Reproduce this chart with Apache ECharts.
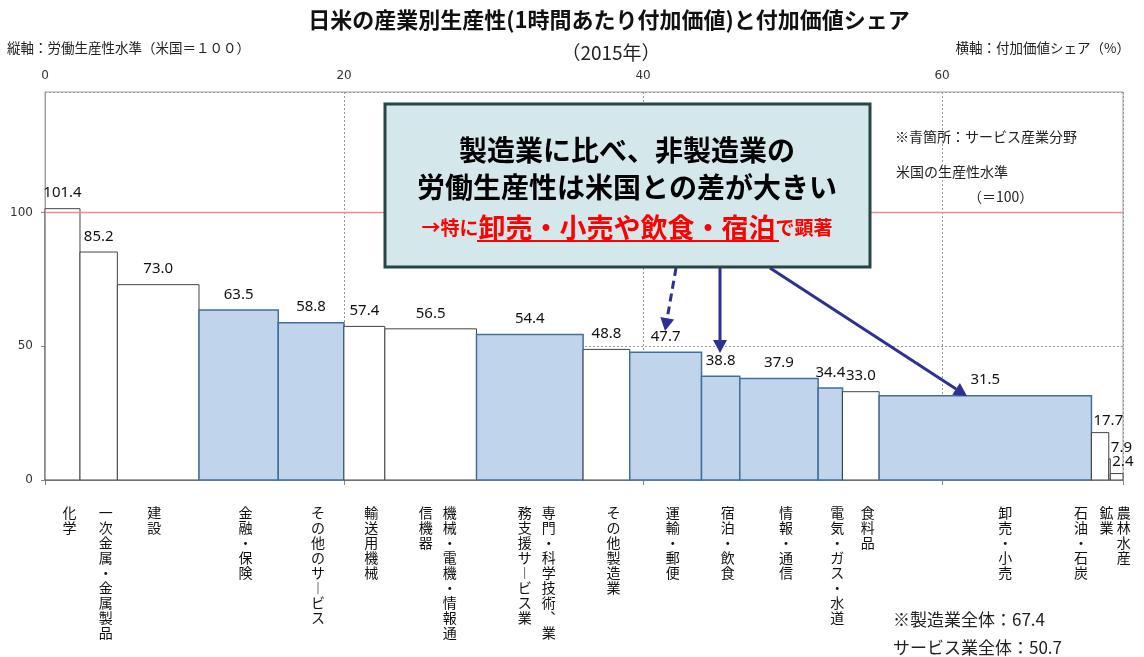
<!DOCTYPE html>
<html>
<head>
<meta charset="utf-8">
<script src="https://cdn.jsdelivr.net/npm/echarts@6/dist/echarts.min.js"></script>
<style>
  html, body { margin: 0; padding: 0; background: #fff; }
  #chart { width: 1144px; height: 657px; }
</style>
</head>
<body>
<div id="chart"></div>
<script>
const categories = ['化学', '一次金属・金属製品', '建設', '金融・保険', 'その他のサービス', '輸送用機械',
    '機械・電機・情報通信機器', '専門・科学技術、業務支援サービス業', 'その他製造業', '運輸・郵便',
    '宿泊・飲食', '情報・通信', '電気・ガス・水道', '食料品', '卸売・小売', '石油・石炭', '鉱業', '農林水産']
// 横軸: 付加価値シェア (%)
const shares = [2.34, 2.5, 5.46, 5.3, 4.39, 2.74, 6.13, 7.13, 3.12, 4.8, 2.56, 5.24, 1.63, 2.45, 14.2, 1.16, 0.1, 0.85]
// 縦軸: 労働生産性水準 (米国=100)
const productivity = [101.4, 85.2, 73.0, 63.5, 58.8, 57.4, 56.5, 54.4, 48.8, 47.7, 38.8, 37.9, 34.4, 33.0, 31.5, 17.7, 7.9, 2.4]
const isService = [0, 0, 0, 1, 1, 0, 0, 1, 0, 1, 1, 1, 1, 0, 1, 0, 0, 0]
const usLevel = 100

const chartDom = document.getElementById('chart')
const chart = echarts.init(chartDom)

// cumulative start / end of each bar on the share axis
let barData = []
let acc = 0
for (let i = 0; i < shares.length; i++) {
    barData.push([acc, acc + shares[i], productivity[i], isService[i], i])
    acc += shares[i]
}
const xMax = Math.round(acc * 100) / 100

const cjk = '"Noto Sans CJK JP", sans-serif'

// vertical (tategaki) label: columns of 9 chars, right to left
function verticalColumns(name) {
    let s = name.replace(/ー/g, '︱').replace(/、/g, '︑')
    let cols = []
    for (let i = 0; i < s.length; i += 9) {
        cols.push(s.slice(i, i + 9).split('').join('\n'))
    }
    return cols
}

function labelNudge(idx) {
    if (idx === 2) return -11
    if (idx === 14) return 13
    if (idx === 15) return -26
    if (idx === 16) return -10
    return 0
}

function renderBar(params, api) {
    const x0 = api.value(0)
    const x1 = api.value(1)
    const v = api.value(2)
    const svc = api.value(3)
    const idx = api.value(4)
    const p0 = api.coord([x0, 0])
    const p1 = api.coord([x1, v])
    const w = p1[0] - p0[0]
    const cx = (p0[0] + p1[0]) / 2

    let children = [{
        type: 'rect',
        shape: { x: p0[0], y: p1[1], width: w, height: p0[1] - p1[1] },
        style: {
            fill: svc ? '#c0d5eb' : '#fff',
            stroke: svc ? '#41709c' : '#444',
            lineWidth: svc ? 1.5 : 1
        }
    }]

    const thin = w < 20
    children.push({
        type: 'text',
        style: {
            text: v.toFixed(1),
            x: thin ? p0[0] + 2 : cx,
            y: p1[1] - (thin ? 4 : 8),
            align: thin ? 'left' : 'center',
            verticalAlign: 'bottom',
            fill: '#111',
            fontSize: 15,
            fontFamily: '"Noto Sans", sans-serif'
        }
    })

    const cols = verticalColumns(categories[idx])
    const pitch = 24
    const lx = cx + 7 + labelNudge(idx)
    cols.forEach((col, k) => {
        children.push({
            type: 'text',
            style: {
                text: col,
                x: lx + ((cols.length - 1) / 2 - k) * pitch,
                y: 505,
                align: 'center',
                verticalAlign: 'top',
                fill: '#111',
                fontSize: 14,
                lineHeight: 15,
                fontFamily: cjk
            }
        })
    })

    return { type: 'group', children: children }
}

function arrow(x1, y1, x2, y2, dashed) {
    const col = '#2e3192'
    const ang = Math.atan2(y2 - y1, x2 - x1)
    const len = 13, half = 7
    const bx = x2 - len * Math.cos(ang), by = y2 - len * Math.sin(ang)
    const nx = -Math.sin(ang), ny = Math.cos(ang)
    return [{
        type: 'line', z: 100,
        shape: { x1: x1, y1: y1, x2: bx, y2: by },
        style: { stroke: col, lineWidth: 3, lineDash: dashed ? [8, 5] : null }
    }, {
        type: 'polygon', z: 100,
        shape: { points: [[x2, y2], [bx + nx * half, by + ny * half], [bx - nx * half, by - ny * half]] },
        style: { fill: col }
    }]
}

function txt(x, y, text, size, opts) {
    return {
        type: 'text', z: 100, x: x, y: y,
        style: Object.assign({
            text: text, fill: '#222', fontSize: size, fontFamily: cjk,
            align: 'left', verticalAlign: 'middle'
        }, opts || {})
    }
}

let graphics = [
    txt(609, 20, '日米の産業別生産性(1時間あたり付加価値)と付加価値シェア', 22, { align: 'center', fontWeight: 'bold', fill: '#111' }),
    txt(611, 53, '（2015年）', 19, { align: 'center' }),
    txt(7, 48, '縦軸：労働生産性水準（米国＝１００）', 13.5),
    txt(1130, 48, '横軸：付加価値シェア（%）', 13.5, { align: 'right' }),
    {
        type: 'rect', z: 99,
        shape: { x: 385, y: 104, width: 485, height: 163 },
        style: { fill: '#d4e8ec', stroke: '#264545', lineWidth: 3 }
    },
    txt(627, 150, '製造業に比べ、非製造業の', 28, { align: 'center', fontWeight: 'bold', fill: '#000' }),
    txt(627, 187, '労働生産性は米国との差が大きい', 28, { align: 'center', fontWeight: 'bold', fill: '#000' }),
    {
        type: 'text', z: 100, x: 627, y: 228,
        style: {
            text: '{s|→特に}{b|卸売・小売や飲食・宿泊}{s|で顕著}',
            align: 'center', verticalAlign: 'middle',
            rich: {
                s: { fontSize: 19, fontWeight: 'bold', fill: '#ff0000', fontFamily: cjk },
                b: { fontSize: 27, fontWeight: 'bold', fill: '#ff0000', fontFamily: cjk }
            }
        }
    },
    {
        type: 'line', z: 100,
        shape: { x1: 477, y1: 241, x2: 779, y2: 241 },
        style: { stroke: '#ff0000', lineWidth: 2 }
    },
    txt(895, 137, '※青箇所：サービス産業分野', 14),
    txt(896, 172, '米国の生産性水準', 14),
    txt(968, 197, '（＝100）', 14),
    txt(893, 620, '※製造業全体：67.4', 17),
    txt(893, 648, 'サービス業全体：50.7', 17)
]
graphics = graphics.concat(arrow(676, 268, 665, 331, true))
graphics = graphics.concat(arrow(720, 268, 720, 353, false))
graphics = graphics.concat(arrow(770, 268, 967, 396, false))

let option = {
    animation: false,
    backgroundColor: '#fff',
    grid: {
        left: 45, right: 21, top: 92, bottom: 177,
        show: true, borderColor: '#a0a0a0', borderWidth: 1
    },
    xAxis: [
        {
            type: 'value', position: 'top',
            min: 0, max: xMax, interval: 20,
            axisLine: { show: false },
            axisTick: { show: false },
            axisLabel: { color: '#333', fontSize: 12, margin: 10, showMaxLabel: false, fontFamily: '"DejaVu Sans", sans-serif' },
            splitLine: { show: true, lineStyle: { color: '#999', type: [2, 2], width: 1 } }
        },
        {
            type: 'value', position: 'bottom',
            min: 0, max: xMax, interval: 20,
            axisLine: { show: true, lineStyle: { color: '#a0a0a0' } },
            axisTick: { show: true, length: 5, lineStyle: { color: '#888' } },
            axisLabel: { show: false },
            splitLine: { show: false }
        }
    ],
    yAxis: {
        type: 'value', min: 0, max: 145, interval: 50,
        axisLine: { show: true, lineStyle: { color: '#a0a0a0' } },
        axisTick: { show: true, length: 4, lineStyle: { color: '#888' } },
        axisLabel: { color: '#333', fontSize: 12, margin: 12, showMaxLabel: false, fontFamily: '"DejaVu Sans", sans-serif' },
        splitLine: { show: true, lineStyle: { color: '#999', type: [2, 2], width: 1 } }
    },
    series: [
        {
            type: 'custom',
            xAxisIndex: 0,
            renderItem: renderBar,
            data: barData,
            z: 2
        },
        {
            type: 'line',
            xAxisIndex: 0,
            data: [[0, usLevel], [xMax, usLevel]],
            symbol: 'none',
            lineStyle: { color: '#f08c8c', width: 1.5 },
            z: 3,
            silent: true
        }
    ],
    graphic: graphics
}

chart.setOption(option)
</script>
</body>
</html>
